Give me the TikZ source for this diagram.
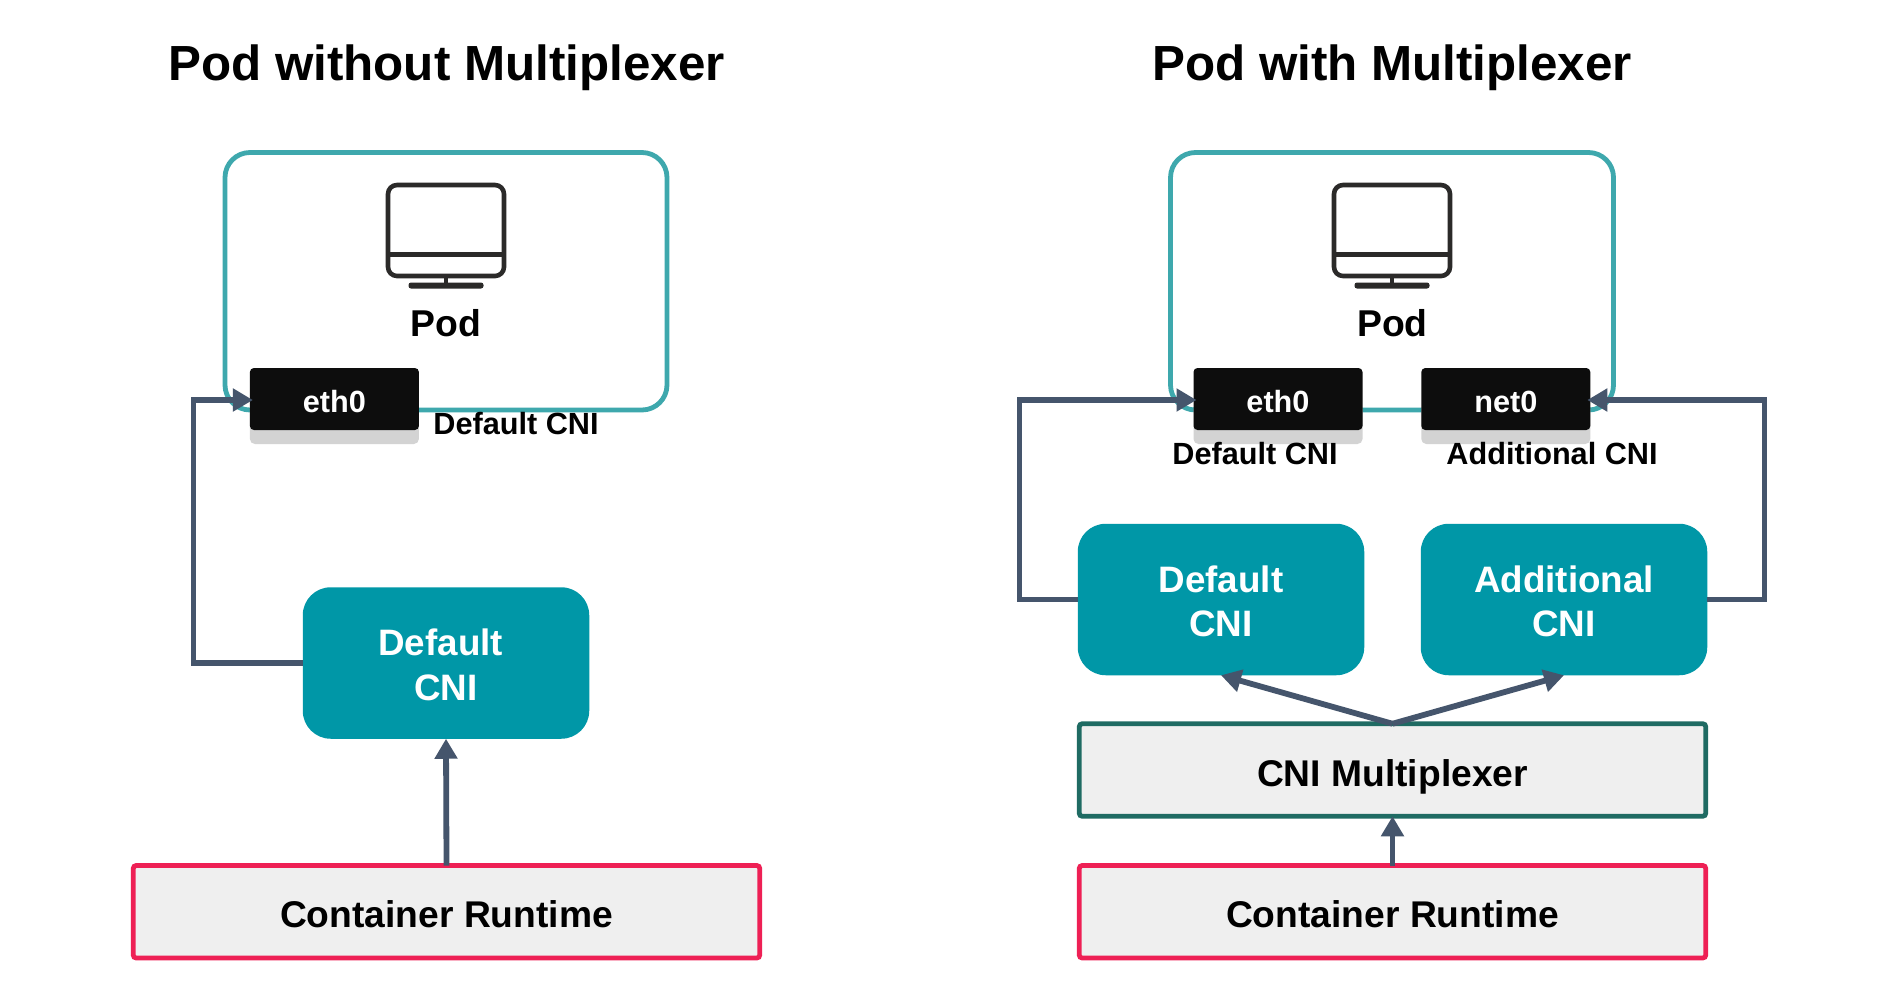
\documentclass[tikz,border=0pt]{standalone}
\usepackage{fontspec}
\setmainfont{Liberation Sans}
\usetikzlibrary{arrows.meta}
\definecolor{tealbox}{HTML}{0097A7}
\definecolor{tealline}{HTML}{3EA8AD}
\definecolor{conn}{HTML}{45556C}
\definecolor{pinkb}{HTML}{EE2055}
\definecolor{greenb}{HTML}{1F6B63}
\definecolor{greyfill}{HTML}{EFEFEF}
\definecolor{nearblack}{HTML}{0D0D0D}
\definecolor{shadowc}{HTML}{D3D3D3}
\definecolor{mon}{HTML}{2B2A29}
\def\px{0.75pt}
\tikzset{
 x=0.75pt,y=-0.75pt,
 every node/.style={inner sep=0pt,outer sep=0pt},
 title/.style={anchor=base,font=\fontsize{37pt}{40pt}\selectfont\bfseries},
 plabel/.style={anchor=base,font=\fontsize{23pt}{26pt}\selectfont\bfseries},
 podtext/.style={anchor=base,font=\fontsize{28pt}{30pt}\selectfont\bfseries},
 podbox/.style={draw=tealline,line width=4.8*\px,rounded corners=25*\px,minimum width=442*\px,minimum height=257.5*\px},
 iface/.style={fill=nearblack,rounded corners=4*\px,minimum width=169*\px,minimum height=62*\px,text=white,text height=26*\px,text depth=0pt,font=\fontsize{23pt}{26pt}\selectfont\bfseries},
 ishadow/.style={fill=shadowc,rounded corners=5*\px,minimum width=169*\px,minimum height=40*\px},
 cnibox/.style={fill=tealbox,rounded corners=28*\px,minimum width=286.5*\px,minimum height=151.5*\px,text=white,align=center,font=\fontsize{27.6pt}{33.3pt}\selectfont\bfseries,text height=74*\px,text depth=0pt},
 stack/.style={fill=greyfill,line width=4.8*\px,rounded corners=3*\px,minimum width=626.5*\px,minimum height=92.5*\px,text height=31*\px,text depth=0pt,font=\fontsize{27.9pt}{32pt}\selectfont\bfseries},
 conline/.style={draw=conn,line width=5.8*\px,-{Triangle[length=20*\px,width=22*\px]}},
 monitor/.pic={
  \draw[mon,line width=4.6*\px,rounded corners=9*\px] (-58,-45.5) rectangle (58,45.5);
  \draw[mon,line width=4.6*\px] (-58,24) -- (58,24);
  \draw[mon,line width=4.6*\px] (0,45.5) -- (0,54);
  \fill[mon,rounded corners=2.5*\px] (-37.5,52) rectangle (37.5,58);
 }
}
\begin{document}
\begin{tikzpicture}
\useasboundingbox[fill=white] (0,0) rectangle (1882,1004);
% Titles
\node[title] (t1) at (446.5,80) {Pod without Multiplexer};
\node[title] (t2) at (1392,80) {Pod with Multiplexer};
% Left
\node[podbox] (podL) at (446,281.25) {};
\pic at (446,230.5) {monitor};
\node[podtext] (podtL) at (446,336) {Pod};
\node[ishadow] (shL) at (334.4,424) {};
\node[iface] (ethL) at (334.4,399) {eth0};
\node[plabel] (dcL) at (516,434) {Default CNI};
\node[cnibox] (cniL) at (446,663) {Default\hspace*{8pt}\\CNI};
\node[stack,draw=pinkb] (rtL) at (446.5,911.75) {Container Runtime};
\coordinate (bendL) at (193.5,400);
\draw[conline] (cniL.west) -- (cniL.west -| bendL) -- (bendL) -- ([xshift=3*\px]bendL -| ethL.west);
\draw[conline] (rtL.north) -- (cniL.south);
% Right
\node[podbox,minimum width=443*\px] (podR) at (1392,281.25) {};
\pic at (1392,230.5) {monitor};
\node[podtext] (podtR) at (1392.5,336) {Pod};
\node[ishadow] (shE) at (1278,424) {};
\node[ishadow] (shN) at (1505.8,424) {};
\node[iface] (ethR) at (1278,399) {eth0};
\node[iface] (netR) at (1505.8,399) {net0};
\node[plabel] (dcR) at (1255,464) {Default CNI};
\node[plabel] (acR) at (1552,464) {Additional CNI};
\node[cnibox] (cniD) at (1221,599.5) {Default\\CNI};
\node[cnibox] (cniA) at (1564,599.5) {Additional\\CNI};
\node[stack,draw=greenb,text height=32*\px] (mux) at (1392.5,770) {CNI Multiplexer};
\node[stack,draw=pinkb] (rtR) at (1392.5,911.75) {Container Runtime};
\coordinate (bendD) at (1019.5,400);
\coordinate (bendA) at (1764.5,400);
\draw[conline] (cniD.west) -- (cniD.west -| bendD) -- (bendD) -- ([xshift=3*\px]bendD -| ethR.west);
\draw[conline] (cniA.east) -- (cniA.east -| bendA) -- (bendA) -- ([xshift=-3*\px]bendA -| netR.east);
\draw[conline] (mux.north) -- (cniD.south);
\draw[conline] (mux.north) -- (cniA.south);
\draw[conline] (rtR.north) -- (mux.south);
\end{tikzpicture}
\end{document}
